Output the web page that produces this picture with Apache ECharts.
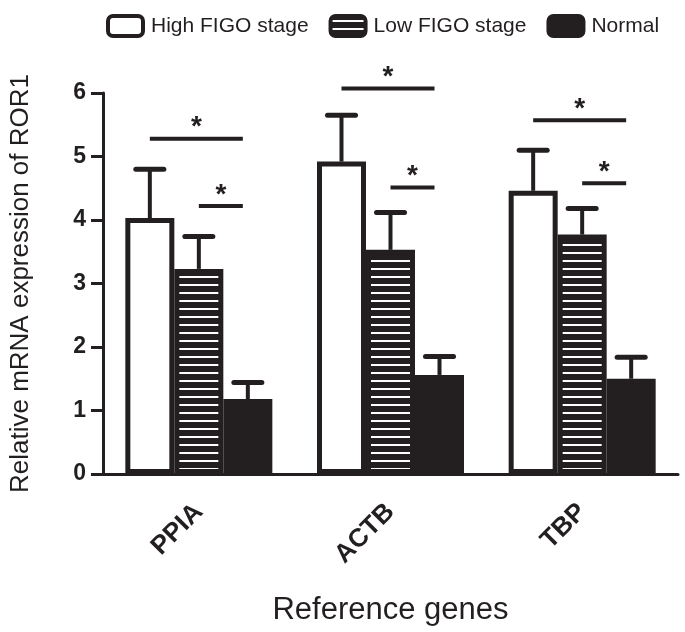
<!DOCTYPE html>
<html><head><meta charset="utf-8">
<script src="https://cdn.jsdelivr.net/npm/echarts/dist/echarts.min.js"></script>
<style>html,body{margin:0;padding:0;background:#fff}#c{width:685px;height:632px}</style>
</head><body><div id="c"></div>
<script>
// ---- data ----
const categories = ['PPIA', 'ACTB', 'TBP'];
const seriesNames = ['High FIGO stage', 'Low FIGO stage', 'Normal'];
const highMean = [4.03, 4.92, 4.46];
const highErr = [0.77, 0.73, 0.64];
const lowMean = [3.23, 3.53, 3.77];
const lowErr = [0.51, 0.59, 0.41];
const normalMean = [1.18, 1.56, 1.50];
const normalErr = [0.26, 0.29, 0.34];
const yTickLabels = ['0', '1', '2', '3', '4', '5', '6'];
const sigLongLevel = [5.28, 6.07, 5.57];   // High vs Normal bracket height
const sigShortLevel = [4.22, 4.51, 4.58];  // Low vs Normal bracket height
const sigMark = '*';
const yTitle = 'Relative mRNA expression of ROR1';
const xTitle = 'Reference genes';

// ---- style ----
const INK = '#231f20';
const FONT = '"Liberation Sans", Arial, Helvetica, sans-serif';
const BAR_W = 49;
const CAP = 28;

const pat = document.createElement('canvas');
pat.width = 8; pat.height = 8;
const g = pat.getContext('2d');
g.fillStyle = INK; g.fillRect(0, 0, 8, 8);
g.fillStyle = '#ffffff'; g.fillRect(0, 4, 8, 2);

const chart = echarts.init(document.getElementById('c'), null, {renderer: 'canvas'});

function errRender(slot) {
  return function (params, api) {
    const c = api.value(0), m = api.value(1), e = api.value(2);
    const p0 = api.coord([c, m]);
    const p1 = api.coord([c, m + e]);
    const x = p0[0] + (slot - 1) * BAR_W;
    return {
      type: 'group', children: [
        {type: 'line', shape: {x1: x, y1: p0[1], x2: x, y2: p1[1]}, style: {stroke: INK, lineWidth: 4}},
        {type: 'line', shape: {x1: x - CAP / 2, y1: p1[1], x2: x + CAP / 2, y2: p1[1]}, style: {stroke: INK, lineWidth: 5, lineCap: 'round'}}
      ]
    };
  };
}

function sigRender(params, api) {
  const c = api.value(0), lvl = api.value(1), kind = api.value(2);
  const p = api.coord([c, lvl]);
  const x1 = p[0] + (kind === 0 ? -BAR_W : 0);
  const x2 = p[0] + BAR_W - 5;
  return {
    type: 'group', children: [
      {type: 'line', shape: {x1: x1, y1: p[1], x2: x2, y2: p[1]}, style: {stroke: INK, lineWidth: 4}},
      {type: 'text', x: (x1 + x2) / 2, y: p[1] + 3, style: {text: sigMark, fill: INK, font: 'bold 28px ' + FONT, align: 'center', verticalAlign: 'bottom'}}
    ]
  };
}

const sigData = [];
categories.forEach((c, i) => { sigData.push([i, sigLongLevel[i], 0]); sigData.push([i, sigShortLevel[i], 1]); });

const barBase = {type: 'bar', barWidth: BAR_W, barGap: '0%', z: 2};

chart.setOption({
  animation: false,
  backgroundColor: '#fff',
  textStyle: {fontFamily: FONT},
  legend: {
    left: 101, top: 9, itemWidth: 35, itemHeight: 20, itemGap: 20,
    textStyle: {fontSize: 21, color: INK, fontFamily: FONT, padding: [0, 0, 0, 3]},
    itemStyle: {borderWidth: 4, borderColor: INK},
    data: seriesNames.map(n => ({name: n, icon: 'roundRect'}))
  },
  grid: {left: 100, right: 7, top: 93, bottom: 158, containLabel: false},
  xAxis: {
    type: 'category', data: categories,
    axisLine: {lineStyle: {color: INK, width: 3}},
    axisTick: {alignWithLabel: true, length: 11, lineStyle: {color: INK, width: 3}},
    axisLabel: {rotate: 45, margin: 34, color: INK, fontSize: 26, fontWeight: 'bold', fontFamily: FONT},
    name: xTitle, nameLocation: 'middle', nameGap: 121,
    nameTextStyle: {fontSize: 31, color: INK, fontFamily: FONT}
  },
  yAxis: {
    type: 'value', min: 0, max: 6, interval: 1,
    axisLine: {show: true, lineStyle: {color: INK, width: 3}},
    axisTick: {show: true, length: 12, lineStyle: {color: INK, width: 3}},
    splitLine: {show: false},
    axisLabel: {margin: 17, color: INK, fontSize: 23, fontWeight: 'bold', fontFamily: FONT,
      formatter: v => yTickLabels[Math.round(v)]},
    name: yTitle, nameLocation: 'middle', nameGap: 69, nameRotate: 90,
    nameTextStyle: {fontSize: 26, color: INK, fontFamily: FONT}
  },
  series: [
    Object.assign({}, barBase, {name: seriesNames[0], data: highMean,
      itemStyle: {color: '#ffffff', borderColor: INK, borderWidth: 5}}),
    Object.assign({}, barBase, {name: seriesNames[1], data: lowMean,
      itemStyle: {color: {image: pat, repeat: 'repeat'}, borderColor: INK, borderWidth: 5}}),
    Object.assign({}, barBase, {name: seriesNames[2], data: normalMean,
      itemStyle: {color: INK, borderColor: INK, borderWidth: 5}}),
    {type: 'custom', name: 'errHigh', renderItem: errRender(0), z: 3, data: categories.map((c, i) => [i, highMean[i], highErr[i]])},
    {type: 'custom', name: 'errLow', renderItem: errRender(1), z: 3, data: categories.map((c, i) => [i, lowMean[i], lowErr[i]])},
    {type: 'custom', name: 'errNormal', renderItem: errRender(2), z: 3, data: categories.map((c, i) => [i, normalMean[i], normalErr[i]])},
    {type: 'custom', name: 'sig', renderItem: sigRender, z: 4, clip: false, data: sigData}
  ]
});
</script></body></html>
